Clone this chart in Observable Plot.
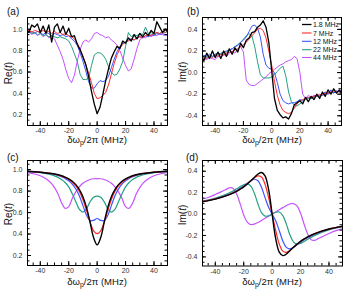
<!DOCTYPE html>
<html><head><meta charset="utf-8">
<script src="https://cdn.jsdelivr.net/npm/d3@7"></script>
<script src="https://cdn.jsdelivr.net/npm/@observablehq/plot@0.6"></script>
<style>
body{margin:0;background:#fff;}
#fig{position:relative;width:343px;height:291px;overflow:hidden;background:#fff;font-family:"Liberation Sans",Arial,sans-serif;}
#fig svg{position:absolute;}
</style></head><body><div id="fig"></div>
<script>
// ---------- data ----------
const seriesLabels = ["1.8 MHz", "7 MHz", "12 MHz", "22 MHz", "44 MHz"];
const seriesColors = ["#000000", "#ff2b2b", "#3a55ff", "#25a083", "#c552ff"];

const xMajor = [-40, -20, 0, 20, 40];
const xMinor = [-45, -40, -35, -30, -25, -20, -15, -10, -5, 0, 5, 10, 15, 20, 25, 30, 35, 40, 45];
const yMajorRe = [0.2, 0.4, 0.6, 0.8, 1.0];
const yMinorRe = [0.15, 0.2, 0.25, 0.3, 0.35, 0.4, 0.45, 0.5, 0.55, 0.6, 0.65, 0.7, 0.75, 0.8, 0.85, 0.9, 0.95, 1.0, 1.05];
const yMajorIm = [-0.4, -0.2, 0.0, 0.2, 0.4];
const yMinorIm = [-0.45, -0.4, -0.35, -0.3, -0.25, -0.2, -0.15, -0.1, -0.05, 0, 0.05, 0.1, 0.15, 0.2, 0.25, 0.3, 0.35, 0.4, 0.45];

// experiment (panels a, b)
const xExp = [-50,-48,-46,-44,-42,-40,-38,-36,-34,-32,
  -30,-28,-26,-24,-22,-20,-18,-16,-14,-12,
  -10,-8,-6,-4,-2,0,2,4,6,8,
  10,12,14,16,18,20,22,24,26,28,
  30,32,34,36,38,40,42,44,46,48,
  50];
const reA_18 = [1.00,0.97,1.04,1.02,1.05,0.97,1.03,0.96,1.04,0.88,
  1.02,1.05,0.97,1.03,0.95,1.01,0.93,0.94,0.86,0.81,
  0.74,0.67,0.56,0.42,0.30,0.21,0.27,0.39,0.52,0.63,
  0.73,0.79,0.84,0.82,0.89,0.87,0.92,0.89,0.95,0.91,
  0.96,0.93,0.97,0.94,0.99,0.96,1.07,1.02,0.97,1.00,
  0.97];
const reA_7 = [0.98,0.99,0.97,0.99,0.98,0.97,0.99,0.97,0.98,0.96,
  0.98,0.96,0.97,0.95,0.96,0.94,0.93,0.91,0.87,0.81,
  0.75,0.67,0.59,0.50,0.40,0.35,0.36,0.38,0.41,0.48,
  0.58,0.68,0.76,0.82,0.86,0.88,0.89,0.91,0.90,0.92,
  0.93,0.92,0.94,0.95,0.94,0.96,0.97,0.96,0.98,0.97,
  0.99];
const reA_12 = [0.99,0.97,0.98,0.96,0.98,0.97,0.95,0.97,0.96,0.94,
  0.96,0.95,0.94,0.95,0.93,0.94,0.91,0.89,0.85,0.78,
  0.70,0.61,0.51,0.45,0.45,0.49,0.52,0.51,0.52,0.56,
  0.64,0.72,0.79,0.84,0.87,0.88,0.90,0.91,0.90,0.92,
  0.93,0.92,0.94,0.93,0.95,0.94,0.96,0.95,0.96,0.95,
  0.94];
const reA_22 = [0.97,0.98,0.96,0.97,0.95,0.96,0.94,0.95,0.93,0.94,
  0.93,0.92,0.93,0.92,0.91,0.89,0.84,0.77,0.70,0.58,
  0.53,0.53,0.54,0.66,0.76,0.78,0.78,0.76,0.72,0.65,
  0.60,0.57,0.58,0.63,0.70,0.84,0.97,0.93,0.95,0.94,
  0.96,0.95,1.02,0.96,0.97,0.95,0.97,0.96,0.98,0.97,
  0.98];
const reA_44 = [0.96,0.98,0.95,0.97,0.94,0.96,0.93,0.95,0.92,0.93,
  0.91,0.85,0.79,0.72,0.62,0.54,0.50,0.57,0.70,0.81,
  0.88,0.90,0.88,0.91,0.96,0.97,0.95,0.94,0.92,0.93,
  0.90,0.88,0.85,0.80,0.73,0.66,0.61,0.63,0.72,0.82,
  0.90,0.93,0.92,0.94,0.93,0.95,0.94,0.96,0.95,0.94,
  0.96];
const imB_18 = [0.15,0.11,0.18,0.13,0.20,0.14,0.19,0.13,0.20,0.15,
  0.22,0.17,0.23,0.19,0.27,0.23,0.30,0.32,0.37,0.38,
  0.42,0.44,0.48,0.42,0.28,0.02,-0.24,-0.35,-0.39,-0.42,
  -0.41,-0.43,-0.38,-0.30,-0.28,-0.26,-0.29,-0.23,-0.27,-0.22,
  -0.25,-0.20,-0.24,-0.18,-0.22,-0.16,-0.20,-0.15,-0.19,-0.16,
  -0.21];
const imB_7 = [0.13,0.14,0.13,0.15,0.14,0.16,0.15,0.17,0.16,0.18,
  0.19,0.19,0.21,0.22,0.24,0.26,0.28,0.31,0.34,0.37,
  0.40,0.41,0.39,0.32,0.20,0.07,-0.08,-0.21,-0.30,-0.35,
  -0.37,-0.38,-0.37,-0.33,-0.29,-0.26,-0.25,-0.24,-0.23,-0.23,
  -0.22,-0.21,-0.21,-0.20,-0.19,-0.19,-0.18,-0.17,-0.18,-0.17,
  -0.18];
const imB_12 = [0.14,0.16,0.15,0.17,0.15,0.17,0.18,0.17,0.19,0.20,
  0.21,0.22,0.24,0.25,0.28,0.30,0.33,0.38,0.43,0.44,
  0.41,0.33,0.17,0.07,0.04,0.03,0.00,-0.09,-0.20,-0.26,
  -0.28,-0.29,-0.28,-0.28,-0.27,-0.25,-0.26,-0.24,-0.23,-0.24,
  -0.22,-0.21,-0.22,-0.20,-0.18,-0.20,-0.16,-0.19,-0.17,-0.18,
  -0.16];
const imB_22 = [0.14,0.15,0.14,0.16,0.15,0.17,0.16,0.18,0.19,0.19,
  0.21,0.22,0.24,0.26,0.28,0.31,0.34,0.36,0.34,0.24,
  0.10,-0.02,-0.05,-0.05,-0.05,-0.04,-0.02,0.01,0.04,0.06,
  -0.03,-0.18,-0.27,-0.30,-0.31,-0.29,-0.27,-0.25,-0.24,-0.24,
  -0.23,-0.22,-0.22,-0.21,-0.20,-0.19,-0.19,-0.18,-0.18,-0.17,
  -0.17];
const imB_44 = [0.12,0.13,0.12,0.14,0.13,0.12,0.15,0.14,0.17,0.15,
  0.18,0.20,0.18,0.22,0.24,0.19,-0.07,-0.11,-0.12,-0.12,
  -0.10,-0.08,-0.06,-0.04,-0.01,0.01,0.03,0.05,0.07,0.08,
  0.10,0.11,0.12,0.15,0.13,0.00,-0.20,-0.24,-0.21,-0.23,
  -0.21,-0.22,-0.20,-0.21,-0.19,-0.20,-0.18,-0.19,-0.17,-0.18,
  -0.16];

// theory (panels c, d)
const xT = [-50,-40,-30,-25,-22.5,-20,-17.5,-15,-12.5,-10,-7.5,-5,-2.5,0,2.5,5,7.5,10,12.5,15,17.5,20,22.5,25,30,40,50];
const reT_18 = [0.985,0.976,0.959,0.943,0.930,0.914,0.892,0.860,0.814,0.747,0.648,0.512,0.367,0.299,0.367,0.512,0.648,0.747,0.814,0.860,0.892,0.914,0.930,0.943,0.959,0.976,0.985];
const imT_18 = [0.113,0.140,0.182,0.212,0.232,0.254,0.281,0.310,0.342,0.373,0.388,0.356,0.230,0,-0.230,-0.356,-0.388,-0.373,-0.342,-0.310,-0.281,-0.254,-0.232,-0.212,-0.182,-0.140,-0.113];
const reT_7 = [0.985,0.976,0.958,0.940,0.927,0.909,0.883,0.848,0.796,0.721,0.620,0.511,0.430,0.404,0.430,0.511,0.620,0.721,0.796,0.848,0.883,0.909,0.927,0.940,0.958,0.976,0.985];
const imT_7 = [0.114,0.141,0.183,0.215,0.234,0.257,0.283,0.311,0.339,0.357,0.346,0.279,0.153,0,-0.153,-0.279,-0.346,-0.357,-0.339,-0.311,-0.283,-0.257,-0.234,-0.215,-0.183,-0.141,-0.114];
const reT_12 = [0.984,0.975,0.955,0.934,0.918,0.896,0.865,0.819,0.755,0.665,0.575,0.525,0.528,0.545,0.528,0.525,0.575,0.665,0.755,0.819,0.865,0.896,0.918,0.934,0.955,0.975,0.984];
const imT_12 = [0.114,0.142,0.187,0.220,0.240,0.263,0.287,0.311,0.325,0.311,0.251,0.153,0.063,0,-0.063,-0.153,-0.251,-0.311,-0.325,-0.311,-0.287,-0.263,-0.240,-0.220,-0.187,-0.142,-0.114];
const reT_22 = [0.982,0.971,0.942,0.908,0.880,0.839,0.775,0.700,0.630,0.605,0.635,0.700,0.742,0.754,0.742,0.700,0.635,0.605,0.630,0.700,0.775,0.839,0.880,0.908,0.942,0.971,0.982];
const imT_22 = [0.118,0.149,0.199,0.236,0.256,0.274,0.281,0.260,0.194,0.094,0.014,-0.019,-0.017,0,0.017,0.019,-0.014,-0.094,-0.194,-0.260,-0.281,-0.274,-0.256,-0.236,-0.199,-0.149,-0.118];
const xT44 = [-50,-45,-40,-35,-32.5,-30,-27.5,-25,-22.5,-20,-17.5,-15,-12.5,-10,-7.5,-5,-2.5,0,2.5,5,7.5,10,12.5,15,17.5,20,22.5,25,27.5,30,32.5,35,40,45,50];
const reT_44 = [0.973,0.962,0.943,0.906,0.876,0.832,0.772,0.690,0.640,0.655,0.732,0.793,0.840,0.873,0.894,0.908,0.915,0.917,0.915,0.908,0.894,0.873,0.840,0.793,0.732,0.655,0.640,0.690,0.772,0.832,0.876,0.906,0.943,0.962,0.973];
const imT_44 = [0.136,0.155,0.182,0.213,0.229,0.245,0.240,0.187,0.095,-0.008,-0.076,-0.098,-0.094,-0.079,-0.060,-0.040,-0.020,0,0.020,0.040,0.060,0.079,0.094,0.098,0.076,0.008,-0.095,-0.187,-0.240,-0.245,-0.229,-0.213,-0.182,-0.155,-0.136];

// ---------- helpers ----------
const rows = (xs, ys) => xs.map((x, i) => ({x, y: ys[i]}));
const FONT = "'Liberation Sans', Arial, sans-serif";
const fig = document.getElementById("fig");

function panel(o) {
  const ml = 30, mr = 3, mt = 6, mb = 20;
  const W = o.w + ml + mr, H = o.h + mt + mb;
  const yMin = o.yMinor.filter(v => v > o.yDom[0] && v < o.yDom[1]);
  const lines = o.series.map((s, i) => Plot.line(s, {
    x: "x", y: "y", stroke: seriesColors[i], strokeWidth: i === 0 ? o.w0 : o.w1,
    curve: o.curve, clip: true
  }));
  const order = [4, 3, 2, 1, 0].map(i => lines[i]);
  const svg = Plot.plot({
    width: W, height: H, marginLeft: ml, marginRight: mr, marginTop: mt, marginBottom: mb,
    style: {background: "none", fontFamily: FONT, overflow: "visible"},
    x: {domain: o.xDom},
    y: {domain: o.yDom},
    marks: [
      ...order,
      Plot.ruleX(xMinor, {insetTop: o.h - 2.5, stroke: "#000"}),
      Plot.ruleX(xMajor, {insetTop: o.h - 4, stroke: "#000"}),
      Plot.ruleX(xMinor, {insetBottom: o.h - 2.5, stroke: "#000"}),
      Plot.ruleX(xMajor, {insetBottom: o.h - 4, stroke: "#000"}),
      Plot.ruleY(yMin, {insetRight: o.w - 2.5, stroke: "#000"}),
      Plot.ruleY(o.yMajor, {insetRight: o.w - 4, stroke: "#000"}),
      Plot.ruleY(yMin, {insetLeft: o.w - 2.5, stroke: "#000"}),
      Plot.ruleY(o.yMajor, {insetLeft: o.w - 4, stroke: "#000"}),
      Plot.frame({stroke: "#000", strokeWidth: 1}),
      Plot.axisX(xMajor, {tickSize: 0, tickPadding: 3, fontSize: 7, fill: "#333", label: null, tickFormat: d => String(d)}),
      Plot.axisY(o.yMajor, {tickSize: 0, tickPadding: 5, fontSize: 7, fill: "#333", label: null, tickFormat: d => d.toFixed(1)})
    ]
  });
  svg.style.left = (o.left - ml) + "px";
  svg.style.top = (o.top - mt) + "px";
  fig.appendChild(svg);
}

const xDom = [-49, 49.5];
panel({left: 27, top: 17, w: 140, h: 108, xDom, yDom: [0.1, 1.11], yMajor: yMajorRe, yMinor: yMinorRe,
  series: [rows(xExp, reA_18), rows(xExp, reA_7), rows(xExp, reA_12), rows(xExp, reA_22), rows(xExp, reA_44)],
  curve: "linear", w0: 1.3, w1: 1});
panel({left: 202, top: 17, w: 139, h: 108, xDom, yDom: [-0.49, 0.51], yMajor: yMajorIm, yMinor: yMinorIm,
  series: [rows(xExp, imB_18), rows(xExp, imB_7), rows(xExp, imB_12), rows(xExp, imB_22), rows(xExp, imB_44)],
  curve: "linear", w0: 1.3, w1: 1});
panel({left: 27, top: 160, w: 140, h: 105, xDom, yDom: [0.107, 1.085], yMajor: yMajorRe, yMinor: yMinorRe,
  series: [rows(xT, reT_18), rows(xT, reT_7), rows(xT, reT_12), rows(xT, reT_22), rows(xT44, reT_44)],
  curve: "catmull-rom", w0: 1.4, w1: 1.2});
panel({left: 202, top: 160, w: 140, h: 105.5, xDom, yDom: [-0.485, 0.5], yMajor: yMajorIm, yMinor: yMinorIm,
  series: [rows(xT, imT_18), rows(xT, imT_7), rows(xT, imT_12), rows(xT, imT_22), rows(xT44, imT_44)],
  curve: "catmull-rom", w0: 1.4, w1: 1.2});

// ---------- text overlay ----------
const ov = d3.select(fig).append("svg").attr("width", 343).attr("height", 291)
  .style("left", "0px").style("top", "0px").style("font-family", FONT);

[["(a)", 7, 15], ["(b)", 187, 15], ["(c)", 7, 161], ["(d)", 186, 161]].forEach(([t, x, y]) =>
  ov.append("text").attr("x", x).attr("y", y).attr("font-size", 10).attr("fill", "#111").text(t));

function ylab(name, x, y) {
  const t = ov.append("text").attr("transform", `translate(${x},${y}) rotate(-90)`)
    .attr("text-anchor", "middle").attr("dominant-baseline", "central").attr("font-size", 10).attr("fill", "#111");
  t.append("tspan").text(name + "(");
  t.append("tspan").attr("font-style", "italic").text("t");
  t.append("tspan").text(")");
}
ylab("Re", 8, 73); ylab("Im", 182, 72); ylab("Re", 8, 214); ylab("Im", 182, 215);

function xlab(x, y) {
  const t = ov.append("text").attr("x", x).attr("y", y).attr("text-anchor", "middle")
    .attr("font-size", 9.5).attr("fill", "#111");
  t.append("tspan").text("δω");
  t.append("tspan").attr("font-size", 7).attr("dy", 2).text("p");
  t.append("tspan").attr("dy", -2).text("/2π (MHz)");
}
xlab(97, 143); xlab(272, 143); xlab(97, 285); xlab(272, 285);

// legend in panel (b)
const legY = [24.5, 33, 41.3, 49.7, 57.5];
seriesLabels.forEach((lab, i) => {
  ov.append("line").attr("x1", 302).attr("x2", 311.5).attr("y1", legY[i]).attr("y2", legY[i])
    .attr("stroke", seriesColors[i]).attr("stroke-width", i === 0 ? 1.3 : 1.1);
  ov.append("text").attr("x", 313).attr("y", legY[i]).attr("dominant-baseline", "central")
    .attr("font-size", 7).attr("fill", "#111").text(lab);
});
</script>
</body></html>
